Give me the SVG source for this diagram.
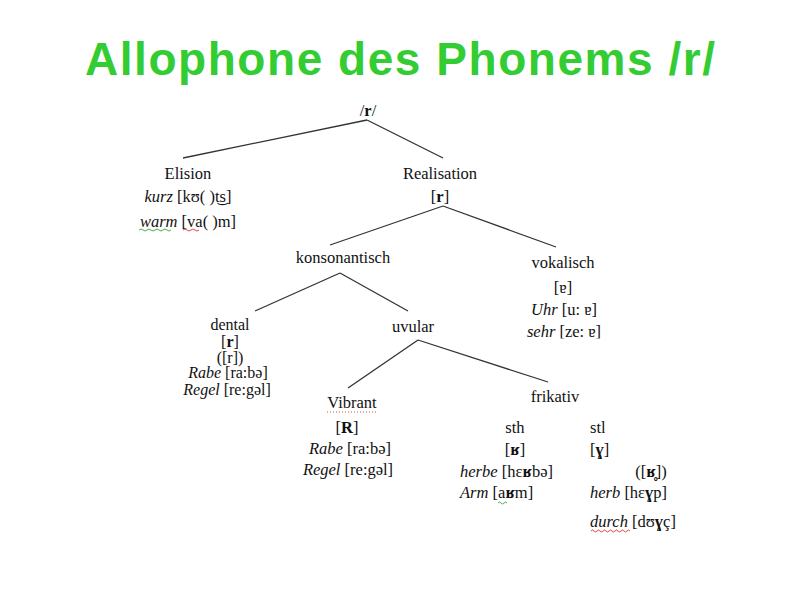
<svg xmlns="http://www.w3.org/2000/svg" width="800" height="600" viewBox="0 0 800 600">
<defs>
<style>
.t{font-family:"Liberation Serif","DejaVu Serif",serif;font-size:16.5px;fill:#111;text-anchor:middle}
.d{font-size:16px}
.s{text-anchor:start}
.i{font-style:italic}
.b{font-weight:bold}
.title{font-family:"Liberation Sans",Arial,sans-serif;font-weight:bold;font-size:46px;fill:#33cc33;text-anchor:middle}
.ln{stroke:#333;stroke-width:1.3;fill:none}
.sq{fill:none;stroke-width:0.9}
</style>
<clipPath id="cl"><rect x="500" y="320" width="120" height="18.5"/></clipPath>
</defs>
<rect width="800" height="600" fill="#fff"/>
<text class="title" x="400" y="75" textLength="630">Allophone des Phonems /r/</text>

<g id="connectors">
<path class="ln" d="M367,120 L183,158"/>
<path class="ln" d="M367,120 L443,158"/>
<path class="ln" d="M443,206 L330,245"/>
<path class="ln" d="M443,206 L556,247"/>
<path class="ln" d="M340,273 L255,311"/>
<path class="ln" d="M340,273 L408,311"/>
<path class="ln" d="M418,340 L348,388"/>
<path class="ln" d="M418,340 L548,382"/>
</g>

<g id="root"><text class="t" x="368" y="116">/<tspan class="b">r</tspan>/</text></g>

<g id="elision">
<text class="t" x="188" y="179">Elision</text>
<text class="t" x="188" y="202"><tspan class="i">kurz</tspan> [kʊ( )t͜s]</text>
<text class="t" x="188" y="227"><tspan class="i">warm</tspan> [va( )m]</text>
<path class="sq" stroke="#3a3" d="M139,230 q2,-2 4,0 t4,0 t4,0 t4,0 t4,0 t4,0 t4,0 t4,0"/>
<path class="sq" stroke="#d33" d="M183,230 q2,-2 4,0 t4,0 t4,0 t4,0"/>
</g>

<g id="realisation">
<text class="t" x="440" y="179">Realisation</text>
<text class="t" x="440" y="202">[<tspan class="b">r</tspan>]</text>
</g>

<g id="konsonantisch"><text class="t" x="343" y="263">konsonantisch</text></g>

<g id="vokalisch">
<text class="t" x="563" y="268">vokalisch</text>
<text class="t" x="563" y="293">[ɐ]</text>
<text class="t" x="564" y="315"><tspan class="i">Uhr</tspan> [u: ɐ]</text>
<text class="t" x="564" y="337" clip-path="url(#cl)"><tspan class="i">sehr</tspan> [ze: ɐ]</text>
</g>

<g id="dental">
<text class="t d" x="230" y="330">dental</text>
<text class="t d" x="230" y="347">[<tspan class="b">r</tspan>]</text>
<text class="t d" x="230" y="363">([r])</text>
<text class="t d" x="228" y="378"><tspan class="i">Rabe</tspan> [ra:bə]</text>
<text class="t d" x="227" y="395"><tspan class="i">Regel</tspan> [re:gəl]</text>
</g>

<g id="uvular"><text class="t" x="413" y="332">uvular</text></g>

<g id="vibrant">
<text class="t" x="352" y="408">Vibrant</text>
<path stroke="#d33" stroke-width="0.9" stroke-dasharray="1,2" d="M327,412 H377"/>
<text class="t" x="347" y="433">[<tspan class="b">R</tspan>]</text>
<text class="t" x="350" y="454"><tspan class="i">Rabe</tspan> [ra:bə]</text>
<text class="t" x="348" y="475"><tspan class="i">Regel</tspan> [re:gəl]</text>
</g>

<g id="frikativ"><text class="t" x="555" y="402">frikativ</text></g>

<g id="sth">
<text class="t" x="515" y="433">sth</text>
<text class="t" x="515" y="455">[<tspan class="b">ʁ</tspan>]</text>
<text class="t s" x="460" y="477"><tspan class="i">herbe</tspan> [hɛ<tspan class="b">ʁ</tspan>bə]</text>
<text class="t s" x="460" y="498"><tspan class="i">Arm</tspan> [a<tspan class="b">ʁ</tspan>m]</text>
<path class="sq" stroke="#3a3" d="M498,503 q1.5,-2 3,0 t3,0 t3,0"/>
</g>

<g id="stl">
<text class="t s" x="590" y="433">stl</text>
<text class="t s" x="590" y="455">[<tspan class="b">ɣ</tspan>]</text>
<text class="t" x="651" y="477">([<tspan class="b">ʁ̥</tspan>])</text>
<text class="t s" x="590" y="498"><tspan class="i">herb</tspan> [hɛ<tspan class="b">ɣ</tspan>p]</text>
<text class="t s" x="590" y="527"><tspan class="i">durch</tspan> [dʊ<tspan class="b">ɣ</tspan>ç]</text>
<path class="sq" stroke="#d33" d="M591,531 q1.5,-2 3,0 t3,0 t3,0 t3,0 t3,0 t3,0 t3,0 t3,0 t3,0 t3,0 t3,0 t3,0 t3,0"/>
</g>
</svg>
